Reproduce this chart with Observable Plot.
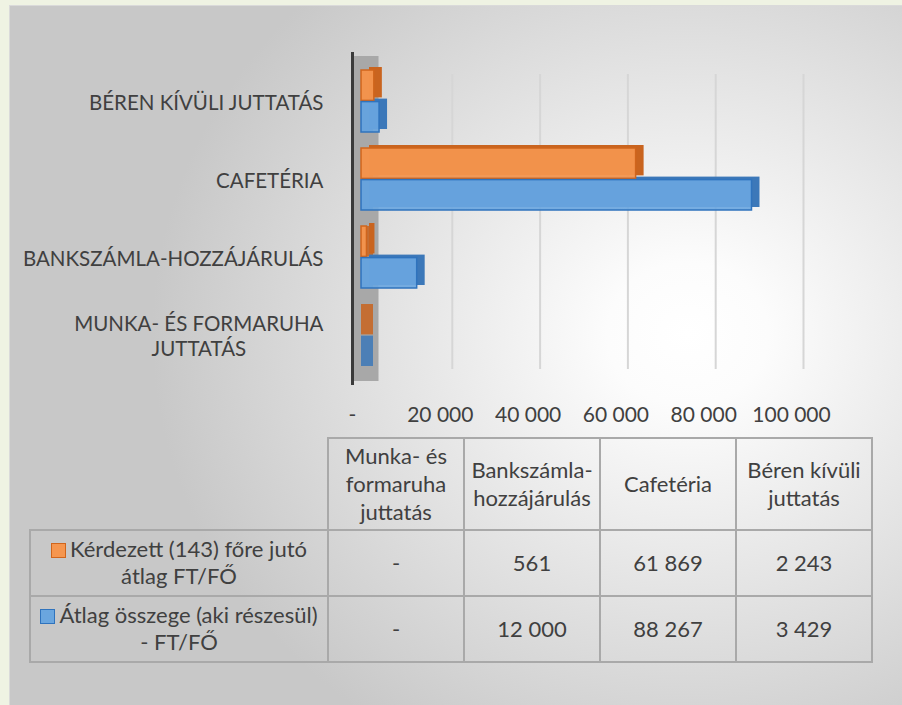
<!DOCTYPE html>
<html><head><meta charset="utf-8">
<script src="https://cdn.jsdelivr.net/npm/d3@7"></script>
<script src="https://cdn.jsdelivr.net/npm/@observablehq/plot@0.6"></script>
<style>
html,body{margin:0;padding:0;}
body{width:902px;height:705px;background:#eff3e3;overflow:hidden;font-family:Lato,sans-serif;position:relative;}
#box{position:absolute;left:9px;top:5px;width:893px;height:700px;
  background:radial-gradient(ellipse 60% 68% at 76% 47%, #ffffff 0%, #fcfcfc 15%, #c8c8c8 100%);
  box-shadow: inset 1px 1px 0 #dadada;}
#chart{position:absolute;left:0;top:0;}
table{position:absolute;left:20px;top:432px;border-collapse:collapse;table-layout:fixed;color:#404040;font-family:Lato,sans-serif;font-size:22px;}
td{border:2px solid #a9a9a9;text-align:center;padding:0 4px;white-space:pre-line;line-height:1.28;}
td.empty{border:none;}
tr.head td{height:90px;width:126px;}
tr.ser td{height:64px;}
td.leg{width:284px;padding:0 6px;line-height:1.22;}
.sq{display:inline-block;width:13px;height:13px;border:1.5px solid;margin-right:4px;vertical-align:-1px;}
</style></head>
<body>
<div id="box"><div id="chart"></div></div>
<script>
// ---- data ----
const categories = ["Munka- és formaruha juttatás","Bankszámla-hozzájárulás","Cafetéria","Béren kívüli juttatás"];
const axisLabels = ["MUNKA- ÉS FORMARUHA\nJUTTATÁS","BANKSZÁMLA-HOZZÁJÁRULÁS","CAFETÉRIA","BÉREN KÍVÜLI JUTTATÁS"];
const headerLabels = ["Munka- és\nformaruha\njuttatás","Bankszámla-\nhozzájárulás","Cafetéria","Béren kívüli\njuttatás"];
const seriesNames = ["Kérdezett (143) főre jutó átlag FT/FŐ","Átlag összege (aki részesül) - FT/FŐ"];
const perRespondent = [0, 561, 61869, 2243];
const perRecipient = [0, 12000, 88267, 3429];
const xTicks = [0, 20000, 40000, 60000, 80000, 100000];

// ---- styles ----
const fills = ["#f5964f", "#6aa6df"];
const edges = ["#d0651c", "#2f73bd"];
const sides = ["#c9641f", "#3c78b9"];

const seriesValues = [perRespondent, perRecipient];
const rows = seriesNames.map((s, si) => categories.map((c, i) => ({category: c, series: s, value: seriesValues[si][i]})));
const [orange, blue] = rows;

const fmt = d3.formatLocale({decimal: ",", thousands: "\u00a0", grouping: [3], currency: ["", ""]}).format(",d");
const numLabel = v => v === 0 ? "-" : fmt(v);
const labelOf = new Map(categories.map((c, i) => [c, axisLabels[i]]));
const half = 31.6;

const plot = Plot.plot({
  width: 893, height: 430,
  marginLeft: 355, marginRight: 99, marginTop: 47, marginBottom: 50,
  style: {fontFamily: "Lato, sans-serif", color: "#404040", background: "transparent", overflow: "visible"},
  x: {domain: [0, 100000], label: null},
  y: {domain: categories.slice().reverse(), paddingInner: 0.2, paddingOuter: 0.21, label: null},
  marks: [
    Plot.ruleX(xTicks.filter(v => v > 0), {stroke: "#d6d6d6", strokeWidth: 2, insetTop: 22, insetBottom: 16}),
    Plot.ruleX([0], {stroke: "#a8a8a8", strokeWidth: 26, dx: 1, insetTop: 4, insetBottom: 4}),
    Plot.ruleX([0], {stroke: "#3a3a3a", strokeWidth: 3, dx: -12}),
    // end faces resting on the wall
    Plot.barX(orange, {y: "category", x1: 0, x2: 0, insetLeft: -3, insetRight: -9, insetBottom: half, fill: sides[0], fillOpacity: 0.85}),
    Plot.barX(blue, {y: "category", x1: 0, x2: 0, insetLeft: -3, insetRight: -9, insetTop: half, fill: sides[1], fillOpacity: 0.85}),
    // depth faces
    Plot.barX(orange, {filter: d => d.value > 0, y: "category", x: "value", insetLeft: -3, insetBottom: half, dx: 8, dy: -3, fill: sides[0]}),
    Plot.barX(blue, {filter: d => d.value > 0, y: "category", x: "value", insetLeft: -3, insetTop: half, dx: 8, dy: -3, fill: sides[1]}),
    // front faces
    Plot.barX(orange, {filter: d => d.value > 0, y: "category", x: "value", insetLeft: -3, insetBottom: half, fill: fills[0], fillOpacity: 0.92, stroke: edges[0], strokeWidth: 1.5}),
    Plot.barX(blue, {filter: d => d.value > 0, y: "category", x: "value", insetLeft: -3, insetTop: half, fill: fills[1], fillOpacity: 0.92, stroke: edges[1], strokeWidth: 1.5}),
    Plot.axisX({ticks: xTicks, tickFormat: numLabel, tickSize: 0, tickPadding: 22, fontSize: 21, dx: -12}),
    Plot.axisY({tickFormat: d => labelOf.get(d), tickSize: 0, tickPadding: 41, fontSize: 20.5, lineHeight: 1.22})
  ]
});
document.getElementById("chart").appendChild(plot);

// center the lines of wrapped category labels inside their right-aligned box
plot.querySelectorAll("text").forEach(t => {
  const spans = t.querySelectorAll("tspan");
  if (spans.length > 1) {
    const w = Math.max(...Array.from(spans, s => s.getComputedTextLength()));
    t.setAttribute("text-anchor", "middle");
    spans.forEach(s => s.setAttribute("x", -w / 2));
  }
});

// data table
const table = document.createElement("table");
const head = table.insertRow(); head.className = "head";
head.insertCell().className = "empty";
headerLabels.forEach(h => { head.insertCell().textContent = h; });
seriesNames.forEach((s, si) => {
  const tr = table.insertRow(); tr.className = "ser";
  const lc = tr.insertCell(); lc.className = "leg";
  const sq = document.createElement("span"); sq.className = "sq";
  sq.style.background = fills[si]; sq.style.borderColor = edges[si];
  lc.appendChild(sq); lc.appendChild(document.createTextNode(s));
  seriesValues[si].forEach(v => { tr.insertCell().textContent = numLabel(v); });
});
document.getElementById("box").appendChild(table);
</script>
</body></html>
